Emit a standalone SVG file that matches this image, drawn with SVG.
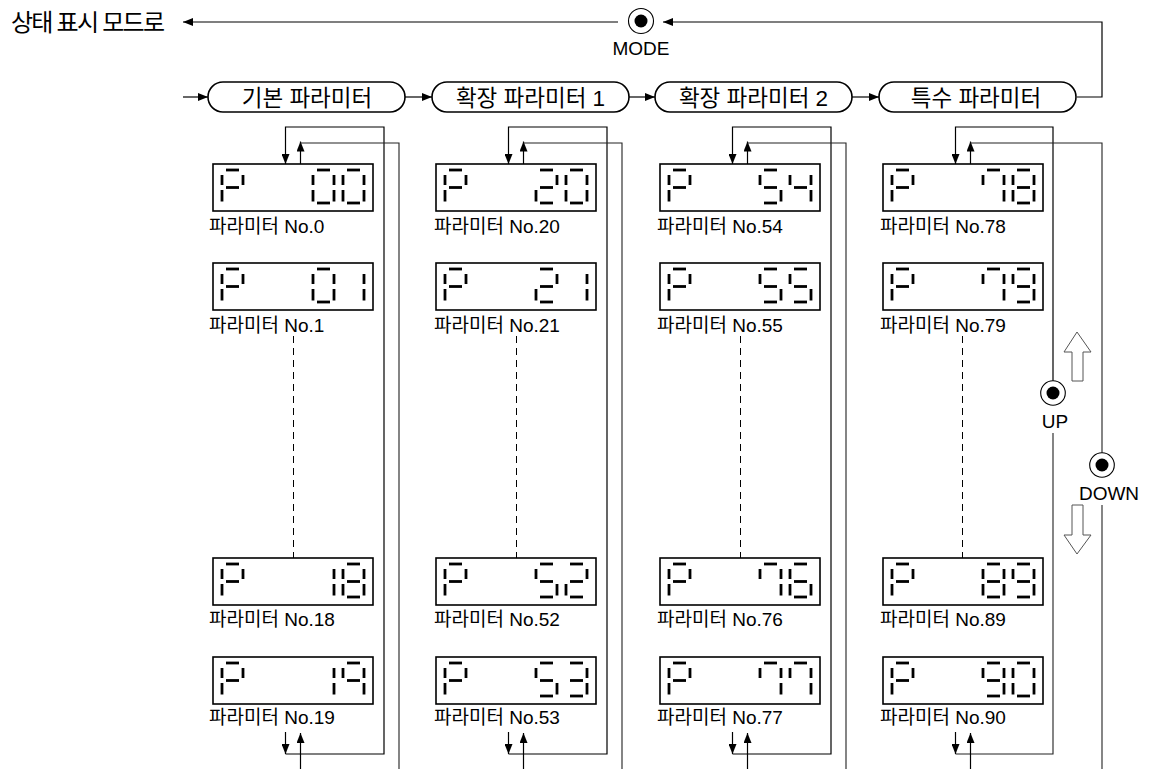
<svg xmlns="http://www.w3.org/2000/svg" xmlns:xlink="http://www.w3.org/1999/xlink" width="1151" height="769" viewBox="0 0 1151 769">
<defs>
<style>
text{font-family:"Liberation Sans","Noto Sans CJK KR",sans-serif;fill:#000}
.big{font-size:24px}
.pt{font-size:22.5px;text-anchor:middle}
.lb{font-size:19px}
.btn{font-size:19px;text-anchor:middle}
.pill{fill:#fff;stroke:#000;stroke-width:1.6}
.disp{fill:#fff;stroke:#000;stroke-width:1.6}
.seg{stroke:#000;stroke-width:2.8;fill:none}
.cn{fill:none;stroke:#222;stroke-width:1.1}
.ar{fill:none;stroke:#000;stroke-width:1.2;marker-end:url(#ah)}
.dash{fill:none;stroke:#000;stroke-width:1;stroke-dasharray:7 5}
.ring{fill:#fff;stroke:#000;stroke-width:1.1}
.hol{fill:#fff;stroke:#555;stroke-width:1}
</style>
<marker id="ah" viewBox="0 0 10 8" refX="10" refY="4" markerWidth="10" markerHeight="8" markerUnits="userSpaceOnUse" orient="auto"><path d="M0,0 L10,4 L0,8 z" fill="#000"/></marker>
<path id="sa" class="seg" d="M4,6 H17"/>
<path id="sb" class="seg" d="M21,11 V21"/>
<path id="sc" class="seg" d="M21,26 V37.5"/>
<path id="sd" class="seg" d="M4,39 H17"/>
<path id="se" class="seg" d="M0,26 V37.5"/>
<path id="sf" class="seg" d="M0,11 V21"/>
<path id="sg" class="seg" d="M4,23.5 H17"/>
<g id="dP"><use href="#sa"/><use href="#sb"/><use href="#sf"/><use href="#sg"/><use href="#se"/></g>
<g id="d0"><use href="#sa"/><use href="#sb"/><use href="#sc"/><use href="#sd"/><use href="#se"/><use href="#sf"/></g>
<g id="d1"><use href="#sb"/><use href="#sc"/></g>
<g id="d2"><use href="#sa"/><use href="#sb"/><use href="#sg"/><use href="#se"/><use href="#sd"/></g>
<g id="d3"><use href="#sa"/><use href="#sb"/><use href="#sg"/><use href="#sc"/><use href="#sd"/></g>
<g id="d4"><use href="#sf"/><use href="#sb"/><use href="#sg"/><use href="#sc"/></g>
<g id="d5"><use href="#sa"/><use href="#sf"/><use href="#sg"/><use href="#sc"/><use href="#sd"/></g>
<g id="d6"><use href="#sa"/><use href="#sf"/><use href="#sg"/><use href="#se"/><use href="#sc"/><use href="#sd"/></g>
<g id="d7"><use href="#sf"/><use href="#sa"/><use href="#sb"/><use href="#sc"/></g>
<g id="d8"><use href="#sa"/><use href="#sb"/><use href="#sc"/><use href="#sd"/><use href="#se"/><use href="#sf"/><use href="#sg"/></g>
<g id="d9"><use href="#sa"/><use href="#sb"/><use href="#sc"/><use href="#sd"/><use href="#sf"/><use href="#sg"/></g>
<g id="d9n"><use href="#sa"/><use href="#sb"/><use href="#sc"/><use href="#sf"/><use href="#sg"/></g>
</defs>
<rect width="1151" height="769" fill="#fff"/>

<g id="connectors">
  <path class="ar" d="M618,22 H183"/>
  <path class="ar" d="M1077,97 H1102 V22 H663"/>
  <path class="ar" d="M183,97 H208"/>
  <path class="ar" d="M405,97 H432"/>
  <path class="ar" d="M629,97 H655"/>
  <path class="ar" d="M852,97 H879"/>
  <!-- column 1 -->
  <path class="ar" d="M285.5,732 V754"/>
  <path class="ar" d="M285.5,754 H384 V127 H285.5 V164"/>
  <path class="ar" d="M300.5,164 V141.5"/>
  <path class="cn" d="M300.5,143 H399 V769"/>
  <path class="ar" d="M300.5,769 V733"/>
  <path class="dash" d="M293.5,336 V558"/>
  <!-- column 2 -->
  <path class="ar" d="M508.5,732 V754"/>
  <path class="ar" d="M508.5,754 H607 V127 H508.5 V164"/>
  <path class="ar" d="M523.5,164 V141.5"/>
  <path class="cn" d="M523.5,143 H622 V769"/>
  <path class="ar" d="M523.5,769 V733"/>
  <path class="dash" d="M516.5,336 V558"/>
  <!-- column 3 -->
  <path class="ar" d="M732.5,732 V754"/>
  <path class="ar" d="M732.5,754 H831 V127 H732.5 V164"/>
  <path class="ar" d="M747.5,164 V141.5"/>
  <path class="cn" d="M747.5,143 H846 V769"/>
  <path class="ar" d="M747.5,769 V733"/>
  <path class="dash" d="M740.5,336 V558"/>
  <!-- column 4 -->
  <path class="ar" d="M955.5,732 V754"/>
  <path class="cn" d="M955.5,754 H1053 V433"/>
  <path class="ar" d="M1053,381 V127 H955.5 V164"/>
  <path class="ar" d="M970.5,164 V141.5"/>
  <path class="cn" d="M970.5,143 H1102 V453"/>
  <path class="cn" d="M1102,505 V769"/>
  <path class="ar" d="M970.5,769 V733"/>
  <path class="dash" d="M962.5,336 V558"/>
</g>

<g id="status-mode">
  <text class="big" x="11" y="31" textLength="154" lengthAdjust="spacing">상태 표시 모드로</text>
</g>

<g id="mode-button">
  <circle class="ring" cx="641" cy="21" r="12.5"/>
  <circle cx="641" cy="21" r="6.5" fill="#000"/>
  <text class="btn" x="641" y="55">MODE</text>
</g>

<g id="pill-basic">
  <rect class="pill" x="208" y="82" width="197" height="30" rx="15" ry="15"/>
  <text class="pt" x="307" y="106">기본 파라미터</text>
</g>
<g id="pill-ext1">
  <rect class="pill" x="432" y="82" width="197" height="30" rx="15" ry="15"/>
  <text class="pt" x="530.5" y="106">확장 파라미터 1</text>
</g>
<g id="pill-ext2">
  <rect class="pill" x="655" y="82" width="197" height="30" rx="15" ry="15"/>
  <text class="pt" x="753.5" y="106">확장 파라미터 2</text>
</g>
<g id="pill-special">
  <rect class="pill" x="879" y="82" width="197" height="30" rx="15" ry="15"/>
  <text class="pt" x="976" y="106">특수 파라미터</text>
</g>

<!-- column 1 displays -->
<g id="p00">
  <rect class="disp" x="213" y="164" width="160" height="47"/>
  <use href="#dP" x="222" y="164"/><use href="#d0" x="313" y="164"/><use href="#d0" x="343" y="164"/>
  <text class="lb" x="209" y="233">파라미터 No.0</text>
</g>
<g id="p01">
  <rect class="disp" x="213" y="263" width="160" height="47"/>
  <use href="#dP" x="222" y="263"/><use href="#d0" x="313" y="263"/><use href="#d1" x="343" y="263"/>
  <text class="lb" x="209" y="332">파라미터 No.1</text>
</g>
<g id="p18">
  <rect class="disp" x="213" y="558" width="160" height="47"/>
  <use href="#dP" x="222" y="558"/><use href="#d1" x="313" y="558"/><use href="#d8" x="343" y="558"/>
  <text class="lb" x="209" y="626">파라미터 No.18</text>
</g>
<g id="p19">
  <rect class="disp" x="213" y="657" width="160" height="47"/>
  <use href="#dP" x="222" y="657"/><use href="#d1" x="313" y="657"/><use href="#d9n" x="343" y="657"/>
  <text class="lb" x="209" y="724">파라미터 No.19</text>
</g>

<!-- column 2 displays -->
<g id="p20">
  <rect class="disp" x="436" y="164" width="160" height="47"/>
  <use href="#dP" x="445" y="164"/><use href="#d2" x="536" y="164"/><use href="#d0" x="566" y="164"/>
  <text class="lb" x="434" y="233">파라미터 No.20</text>
</g>
<g id="p21">
  <rect class="disp" x="436" y="263" width="160" height="47"/>
  <use href="#dP" x="445" y="263"/><use href="#d2" x="536" y="263"/><use href="#d1" x="566" y="263"/>
  <text class="lb" x="434" y="332">파라미터 No.21</text>
</g>
<g id="p52">
  <rect class="disp" x="436" y="558" width="160" height="47"/>
  <use href="#dP" x="445" y="558"/><use href="#d5" x="536" y="558"/><use href="#d2" x="566" y="558"/>
  <text class="lb" x="434" y="626">파라미터 No.52</text>
</g>
<g id="p53">
  <rect class="disp" x="436" y="657" width="160" height="47"/>
  <use href="#dP" x="445" y="657"/><use href="#d5" x="536" y="657"/><use href="#d3" x="566" y="657"/>
  <text class="lb" x="434" y="724">파라미터 No.53</text>
</g>

<!-- column 3 displays -->
<g id="p54">
  <rect class="disp" x="660" y="164" width="160" height="47"/>
  <use href="#dP" x="669" y="164"/><use href="#d5" x="760" y="164"/><use href="#d4" x="790" y="164"/>
  <text class="lb" x="657" y="233">파라미터 No.54</text>
</g>
<g id="p55">
  <rect class="disp" x="660" y="263" width="160" height="47"/>
  <use href="#dP" x="669" y="263"/><use href="#d5" x="760" y="263"/><use href="#d5" x="790" y="263"/>
  <text class="lb" x="657" y="332">파라미터 No.55</text>
</g>
<g id="p76">
  <rect class="disp" x="660" y="558" width="160" height="47"/>
  <use href="#dP" x="669" y="558"/><use href="#d7" x="760" y="558"/><use href="#d6" x="790" y="558"/>
  <text class="lb" x="657" y="626">파라미터 No.76</text>
</g>
<g id="p77">
  <rect class="disp" x="660" y="657" width="160" height="47"/>
  <use href="#dP" x="669" y="657"/><use href="#d7" x="760" y="657"/><use href="#d7" x="790" y="657"/>
  <text class="lb" x="657" y="724">파라미터 No.77</text>
</g>

<!-- column 4 displays -->
<g id="p78">
  <rect class="disp" x="883" y="164" width="160" height="47"/>
  <use href="#dP" x="892" y="164"/><use href="#d7" x="983" y="164"/><use href="#d8" x="1013" y="164"/>
  <text class="lb" x="880" y="233">파라미터 No.78</text>
</g>
<g id="p79">
  <rect class="disp" x="883" y="263" width="160" height="47"/>
  <use href="#dP" x="892" y="263"/><use href="#d7" x="983" y="263"/><use href="#d9" x="1013" y="263"/>
  <text class="lb" x="880" y="332">파라미터 No.79</text>
</g>
<g id="p89">
  <rect class="disp" x="883" y="558" width="160" height="47"/>
  <use href="#dP" x="892" y="558"/><use href="#d8" x="983" y="558"/><use href="#d9" x="1013" y="558"/>
  <text class="lb" x="880" y="626">파라미터 No.89</text>
</g>
<g id="p90">
  <rect class="disp" x="883" y="657" width="160" height="47"/>
  <use href="#dP" x="892" y="657"/><use href="#d9" x="983" y="657"/><use href="#d0" x="1013" y="657"/>
  <text class="lb" x="880" y="724">파라미터 No.90</text>
</g>

<g id="up-button">
  <circle class="ring" cx="1053" cy="393" r="12.3"/>
  <circle cx="1053" cy="393" r="6.5" fill="#000"/>
  <text class="btn" x="1055" y="428">UP</text>
  <path class="hol" d="M1077,332 L1091,352 H1083 V381 H1072 V352 H1064 Z"/>
</g>
<g id="down-button">
  <circle class="ring" cx="1102" cy="465" r="12.3"/>
  <circle cx="1102" cy="465" r="6.5" fill="#000"/>
  <text class="btn" x="1109" y="500">DOWN</text>
  <path class="hol" d="M1072,505 H1083 V535 H1091 L1077,554 L1064,535 H1072 Z"/>
</g>
</svg>
